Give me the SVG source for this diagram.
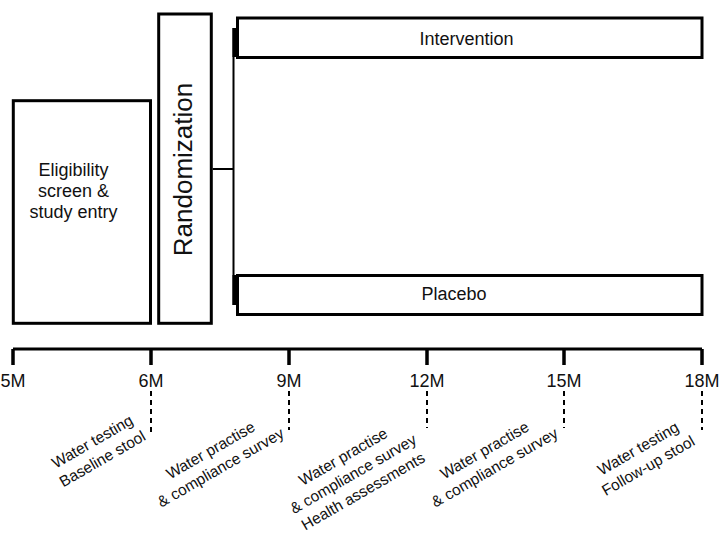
<svg xmlns="http://www.w3.org/2000/svg" width="720" height="534" viewBox="0 0 720 534">
<style>
.box{fill:#fff;stroke:#000;stroke-width:3}
.lbl{font-family:"Liberation Sans",Arial,sans-serif;font-size:18px;fill:#111;text-anchor:middle}
.ann{font-family:"Liberation Sans",Arial,sans-serif;font-size:15.5px;fill:#111;text-anchor:middle}
.axis{stroke:#000;stroke-width:3;fill:none}
.tick{stroke:#000;stroke-width:3.5;fill:none}
.dash{stroke:#000;stroke-width:2;stroke-dasharray:5 4;fill:none}
.conn{stroke:#000;fill:none}
</style>
<rect width="720" height="534" fill="#fff"/>
<g id="connectors">
<path class="conn" stroke-width="2" d="M212.7,169 H233.5 M233.5,28 V305"/>
<path class="conn" stroke-width="4" d="M234.5,28 V57 M234.5,275 V305"/>
</g>
<g id="eligibility">
<rect class="box" x="13.3" y="100.7" width="137.2" height="222.6"/>
<text class="lbl" x="73.5" y="175.7">Eligibility</text>
<text class="lbl" x="73.5" y="196.9">screen &amp;</text>
<text class="lbl" x="73.5" y="218.2">study entry</text>
</g>
<g id="randomization">
<rect class="box" x="158.7" y="14" width="52.6" height="309.3"/>
<text class="lbl" style="font-size:26px" transform="translate(192,169.5) rotate(-90)">Randomization</text>
</g>
<g id="intervention">
<rect class="box" x="237.5" y="18" width="464.5" height="39.5"/>
<text class="lbl" x="466.5" y="45">Intervention</text>
</g>
<g id="placebo">
<rect class="box" x="237.5" y="275.5" width="464.5" height="39"/>
<text class="lbl" x="454" y="300">Placebo</text>
</g>
<g id="timeline">
<path class="axis" d="M13,349 H702"/>
<path class="tick" d="M13,349 V365 M151,349 V365 M289,349 V365 M427,349 V365 M564,349 V365 M702,349 V365"/>
<text class="lbl" x="13" y="387">5M</text>
<text class="lbl" x="151" y="387">6M</text>
<text class="lbl" x="289" y="387">9M</text>
<text class="lbl" x="427" y="387">12M</text>
<text class="lbl" x="564" y="387">15M</text>
<text class="lbl" x="702" y="387">18M</text>
<path class="dash" d="M151,391 V432 M289,391 V430 M427,391 V428 M564,391 V428 M702,391 V430"/>
</g>
<g id="m6">
<text class="ann" transform="translate(105,463.4) rotate(-30)"><tspan x="0" y="-20">Water testing</tspan><tspan x="0" y="0">Baseline stool</tspan></text>
</g>
<g id="m9">
<text class="ann" transform="translate(223.2,472.1) rotate(-30)"><tspan x="0" y="-20">Water practise</tspan><tspan x="0" y="0">&amp; compliance survey</tspan></text>
</g>
<g id="m12">
<text class="ann" transform="translate(365.8,495.8) rotate(-30)"><tspan x="0" y="-40">Water practise</tspan><tspan x="0" y="-20">&amp; compliance survey</tspan><tspan x="0" y="0">Health assessments</tspan></text>
</g>
<g id="m15">
<text class="ann" transform="translate(497.2,472.1) rotate(-30)"><tspan x="0" y="-20">Water practise</tspan><tspan x="0" y="0">&amp; compliance survey</tspan></text>
</g>
<g id="m18">
<text class="ann" transform="translate(650.8,470.3) rotate(-30)"><tspan x="0" y="-20">Water testing</tspan><tspan x="0" y="0">Follow-up stool</tspan></text>
</g>
</svg>
